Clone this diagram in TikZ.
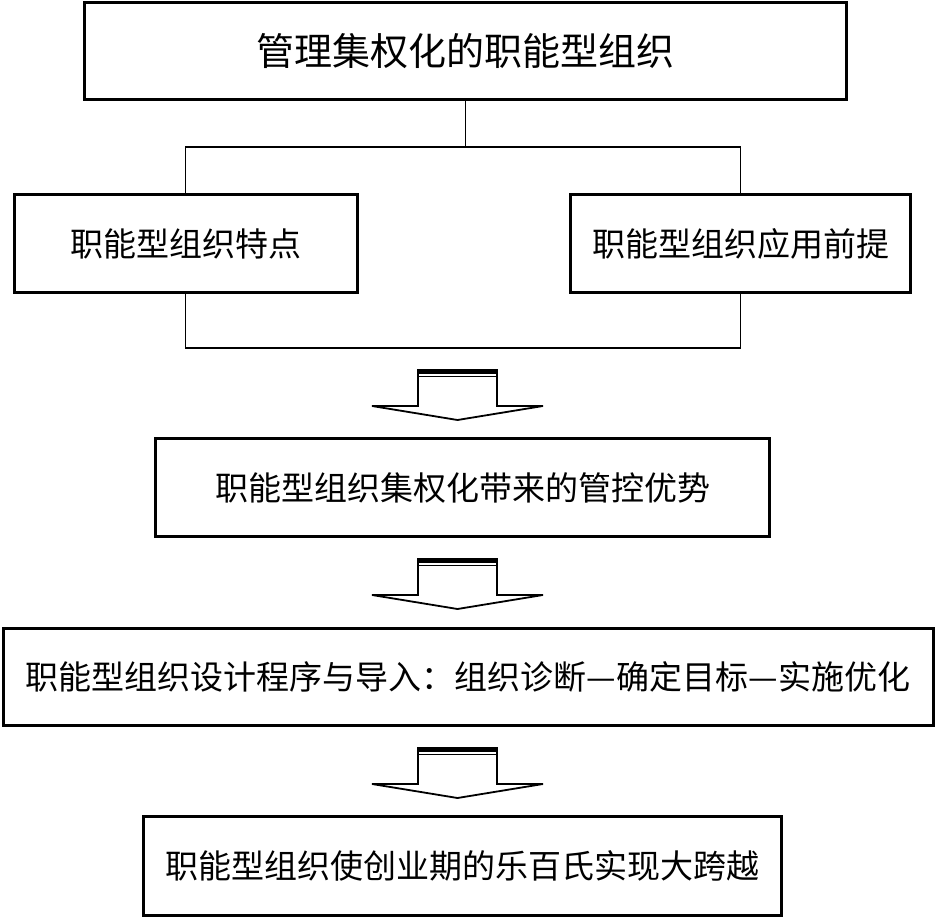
\documentclass[tikz,border=0pt]{standalone}
\usepackage{fontspec}
\setmainfont{Noto Sans CJK SC}
\usetikzlibrary{positioning}

\begin{document}
\begin{tikzpicture}[
    x=1pt, y=-1pt,
    box/.style={draw, line width=3pt, inner sep=0pt, align=center,
        font=\fontsize{33}{40}\selectfont},
    link/.style={line width=1.5pt},
    arrowdown/.pic={
        \draw[line width=1.8pt, line join=miter]
            (-39.5,0) -- (-39.5,36) -- (-85.5,36) -- (0,50)
            -- (85.5,36) -- (39.5,36) -- (39.5,0) -- cycle;
        \draw[line width=4pt] (-39.5,2) -- (39.5,2);
        \draw[line width=1.2pt] (-39.5,6.5) -- (39.5,6.5);
    }
]
    \useasboundingbox (0,0) rectangle (937,917);

    % Boxes
    \node[box, minimum width=762pt, minimum height=97pt,
        font=\fontsize{38}{44}\selectfont] (top) at (465.5,51) {管理集权化的职能型组织};
    \node[box, minimum width=343pt, minimum height=98pt] (feature) at (185.5,244) {职能型组织特点};
    \node[box, minimum width=340pt, minimum height=98pt] (premise) at (740.5,244) {职能型组织应用前提};
    \node[box, minimum width=614pt, minimum height=98pt] (advantage) at (462.5,487.5) {职能型组织集权化带来的管控优势};
    \node[box, minimum width=930pt, minimum height=97pt] (design) at (468,677) {职能型组织设计程序与导入：组织诊断—确定目标—实施优化};
    \node[box, minimum width=638pt, minimum height=99pt] (leap) at (462.5,866) {职能型组织使创业期的乐百氏实现大跨越};

    % Tree connectors
    \coordinate (fork) at (465.5,147);
    \coordinate (join) at (462.5,348);
    \draw[link] (top.south) -- (fork);
    \draw[link] (feature.north) |- (fork) -| (premise.north);
    \draw[link] (feature.south) |- (join) -| (premise.south);

    % Block arrows
    \coordinate (arr1) at (457.5,370);
    \coordinate (arr2) at (457.5,559);
    \coordinate (arr3) at (457.5,748);
    \pic at (arr1) {arrowdown};
    \pic at (arr2) {arrowdown};
    \pic at (arr3) {arrowdown};
\end{tikzpicture}
\end{document}
